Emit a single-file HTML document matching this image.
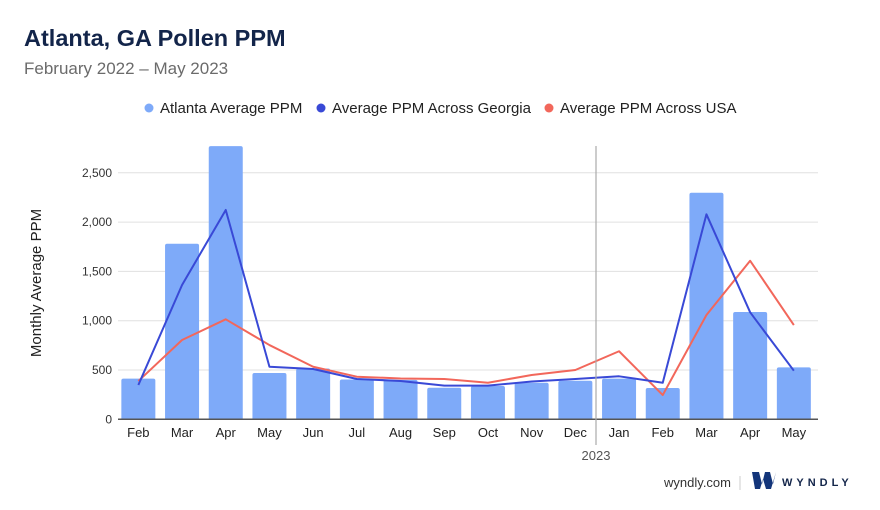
<!DOCTYPE html>
<html><head><meta charset="utf-8"><style>
body{margin:0;background:#fff;font-family:"Liberation Sans",sans-serif;}
#wrap{position:relative;width:880px;height:510px;overflow:hidden;}
</style></head><body>
<div id="wrap">
<svg id="chart" width="880" height="510">
<text x="24" y="46" font-size="23.5" font-weight="bold" fill="#13254a">Atlanta, GA Pollen PPM</text>
<text x="24" y="74" font-size="17" fill="#6b6b6b">February 2022 – May 2023</text>
<g>
<g><circle cx="149" cy="108" r="4.5" fill="#7eaaf9"/><text x="160" y="113" font-size="15" fill="#222">Atlanta Average PPM</text></g>
<g><circle cx="321" cy="108" r="4.5" fill="#3949d6"/><text x="332" y="113" font-size="15" fill="#222">Average PPM Across Georgia</text></g>
<g><circle cx="549" cy="108" r="4.5" fill="#f2675b"/><text x="560" y="113" font-size="15" fill="#222">Average PPM Across USA</text></g>
</g>
<text transform="translate(41,283) rotate(-90)" text-anchor="middle" font-size="15" fill="#222">Monthly Average PPM</text>
<g id="grid"></g><g id="bars"></g><g id="lines"></g><g id="xlabels"></g>
<line x1="596" y1="146" x2="596" y2="445" stroke="#aaa" stroke-width="1.2"/>
<text x="596" y="460" text-anchor="middle" font-size="13" fill="#555">2023</text>
<text x="731" y="487" text-anchor="end" font-size="13" fill="#333">wyndly.com</text>
<line x1="740" y1="476" x2="740" y2="490" stroke="#ccc"/>
<g>
<path d="M752 472 h7 l3 12 l3 -12 h5 l3 12 l3 -12 h-0 l-5 17 h-5 l-3 -10 l-3 10 h-5 z" fill="#13357a"/>
<text x="782" y="486" font-size="11" font-weight="bold" fill="#13254a" letter-spacing="4">WYNDLY</text>
</g>
</svg>
<script>
const categories=["Feb","Mar","Apr","May","Jun","Jul","Aug","Sep","Oct","Nov","Dec","Jan","Feb","Mar","Apr","May"];
const atlanta=[412,1781,2770,470,515,404,400,320,338,371,391,412,317,2298,1088,527];
const georgia=[348,1362,2123,533,510,409,389,341,341,383,409,436,371,2079,1085,493];
const usa=[388,804,1014,753,533,432,414,409,371,449,500,690,246,1058,1608,956];
const yTicks=[0,500,1000,1500,2000,2500];
const yTickLabels=["0","500","1,000","1,500","2,000","2,500"];
const NS="http://www.w3.org/2000/svg";
const x0=116.5,step=43.7,y0=419.3,k=0.0986;
const xc=i=>x0+step*(i+0.5);
const y=v=>y0-v*k;
function mk(t,a,p){const e=document.createElementNS(NS,t);for(const n in a)e.setAttribute(n,a[n]);p.appendChild(e);return e;}
const grid=document.getElementById('grid');
yTicks.forEach((t,i)=>{
  if(t>0){const l=mk('line',{x1:118,x2:818,y1:y(t),y2:y(t),stroke:'#e0e0e0','stroke-width':1},grid);
  
  }
  const tx=mk('text',{x:112,y:y(t)+4,'text-anchor':'end','font-size':12,fill:'#333'},grid);
  tx.textContent=yTickLabels[i];
  
  
});
const bars=document.getElementById('bars');
atlanta.forEach((v,i)=>{
  const w=34;
  const r=mk('path',{d:`M${xc(i)-w/2},${y0} V${y(v)+2} q0,-2 2,-2 H${xc(i)+w/2-2} q2,0 2,2 V${y0} Z`,fill:'#7eaaf9'},bars);
  
  
});
const ax=mk('line',{x1:118,x2:818,y1:y0,y2:y0,stroke:'#555','stroke-width':1.5},bars);


const lines=document.getElementById('lines');
function line(arr,col,name){
  const p=mk('polyline',{points:arr.map((v,i)=>xc(i)+','+y(v)).join(' '),fill:'none',stroke:col,'stroke-width':2,'stroke-linejoin':'round'},lines);
  
  
}
line(usa,'#f2675b','usa-line');
line(georgia,'#3949d6','georgia-line');
const xl=document.getElementById('xlabels');
categories.forEach((c,i)=>{
  const t=mk('text',{x:xc(i),y:437,'text-anchor':'middle','font-size':13,fill:'#222'},xl);
  t.textContent=c;
  
  
});
</script>
</div>
</body></html>
